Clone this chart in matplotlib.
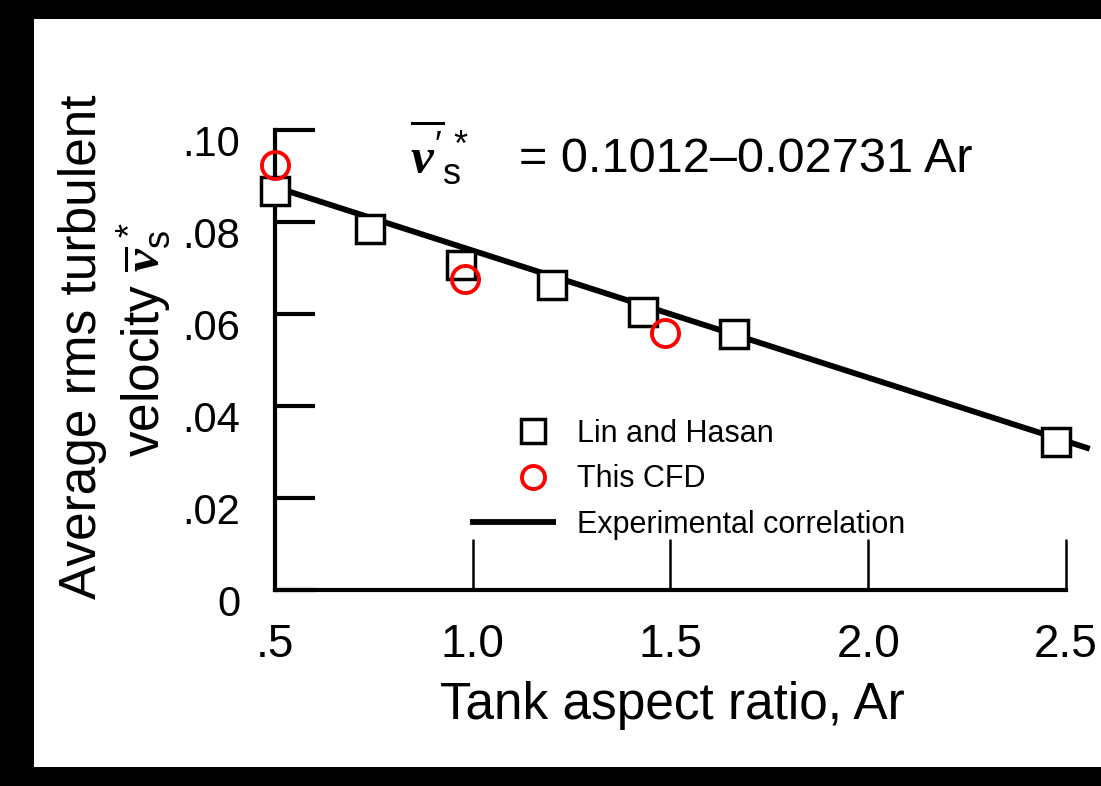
import numpy as np
import matplotlib
matplotlib.use('Agg')
import matplotlib.pyplot as plt
import matplotlib.transforms as mtransforms
from matplotlib.patches import Rectangle
from matplotlib.legend_handler import HandlerLine2D

plt.rcParams['font.family'] = ['Liberation Sans', 'DejaVu Sans']
plt.rcParams['mathtext.fontset'] = 'custom'
plt.rcParams['mathtext.rm'] = 'Liberation Sans'
plt.rcParams['mathtext.sf'] = 'Liberation Sans'
plt.rcParams['mathtext.it'] = 'Liberation Serif:italic:bold'
plt.rcParams['mathtext.bf'] = 'Liberation Sans:bold'

# Lin and Hasan measurements
lin_ar = [0.50, 0.74, 0.97, 1.20, 1.43, 1.66, 2.475]
lin_v = [0.0868, 0.0785, 0.0707, 0.0663, 0.0605, 0.0557, 0.0322]

# this CFD
cfd_ar = [0.50, 0.98, 1.485]
cfd_v = [0.0925, 0.0676, 0.0558]

# experimental correlation, end points
corr_ar = [0.50, 2.56]
corr_v = [0.0876, 0.0307]

x_ticks = [0.5, 1.0, 1.5, 2.0, 2.5]
x_labels = ['.5', '1.0', '1.5', '2.0', '2.5']
y_ticks = [0, 0.02, 0.04, 0.06, 0.08, 0.10]
y_labels = ['0', '.02', '.04', '.06', '.08', '.10']


class RightMarker(HandlerLine2D):
    # legend markers sit towards the right end of the handle (no line drawn)
    def get_xdata(self, legend, xdescent, ydescent, width, height, fontsize):
        m = -xdescent + 0.74 * width
        return np.array([m - 1, m + 1]), np.array([m])


W, H = 1101, 786
fig = plt.figure(figsize=(W / 100, H / 100), dpi=100, facecolor='black')
fig.patches.append(Rectangle((34 / W, 19 / H), (W - 34) / W, 748 / H,
                             transform=fig.transFigure, facecolor='white',
                             edgecolor='none', zorder=-10))

ax = fig.add_axes([275 / W, (H - 590) / H, (W - 275) / W, 460 / H])
ax.set_facecolor('none')

line, = ax.plot(corr_ar, corr_v, color='black', lw=4.2, solid_capstyle='butt',
                label='Experimental correlation', zorder=2)
sq, = ax.plot(lin_ar, lin_v, ls='none', marker='s', ms=19.5, mfc='white',
              mec='black', mew=2.5, label='Lin and Hasan', clip_on=False, zorder=3)
circ, = ax.plot(cfd_ar, cfd_v, ls='none', marker='o', ms=19.5, mfc='none',
                mec='#ff0000', mew=2.8, label='This CFD', clip_on=False, zorder=4)

ax.set_xlim(0.5, 0.5 + 826 / 395.5)
ax.set_ylim(0, 0.10)
ax.spines['top'].set_visible(False)
ax.spines['right'].set_visible(False)
ax.spines['left'].set_linewidth(3)
ax.spines['bottom'].set_linewidth(3)
ax.spines['bottom'].set_bounds(0.5, 2.5)

ax.set_xticks(x_ticks)
ax.set_xticklabels(x_labels, fontsize=33)
ax.set_yticks(y_ticks)
ax.set_yticklabels(y_labels, fontsize=30)
ax.tick_params(axis='x', direction='in', length=37, width=1.8, pad=24)
ax.tick_params(axis='y', direction='in', length=29, width=3, pad=25)

shift = mtransforms.ScaledTranslation(0, -10 / 100, fig.dpi_scale_trans)
for lab in ax.get_yticklabels():
    lab.set_transform(lab.get_transform() + shift)

fig.text(672 / W, 1 - 706 / H, 'Tank aspect ratio, Ar', fontsize=37,
         ha='center', va='center')
fig.text(83 / W, 1 - 347 / H, 'Average rms turbulent', fontsize=37,
         rotation=90, ha='center', va='center')
fig.text(144 / W, 1 - 340 / H,
         r"velocity $\overline{\nu}^{\,*}_{\mathsf{s}}$", fontsize=37,
         rotation=90, ha='center', va='center')

fig.text(410 / W, 1 - 172 / H, r"$\overline{\nu^{\prime}}^{\,*}_{\mathsf{s}}$",
         fontsize=37, ha='left', va='baseline')
fig.text(519 / W, 1 - 172 / H, '= 0.1012\u20130.02731 Ar', fontsize=35,
         ha='left', va='baseline')

ax.legend(handles=[sq, circ, line], loc='upper left',
          bbox_to_anchor=(470 / W, 1 - 419 / H), bbox_transform=fig.transFigure,
          frameon=False, borderpad=0, borderaxespad=0, handlelength=2.8,
          handletextpad=0.7, labelspacing=0.5, markerscale=0.85,
          prop={'size': 22},
          handler_map={sq: RightMarker(numpoints=1), circ: RightMarker(numpoints=1)})

fig.savefig('out.png', dpi=100, facecolor=fig.get_facecolor())
